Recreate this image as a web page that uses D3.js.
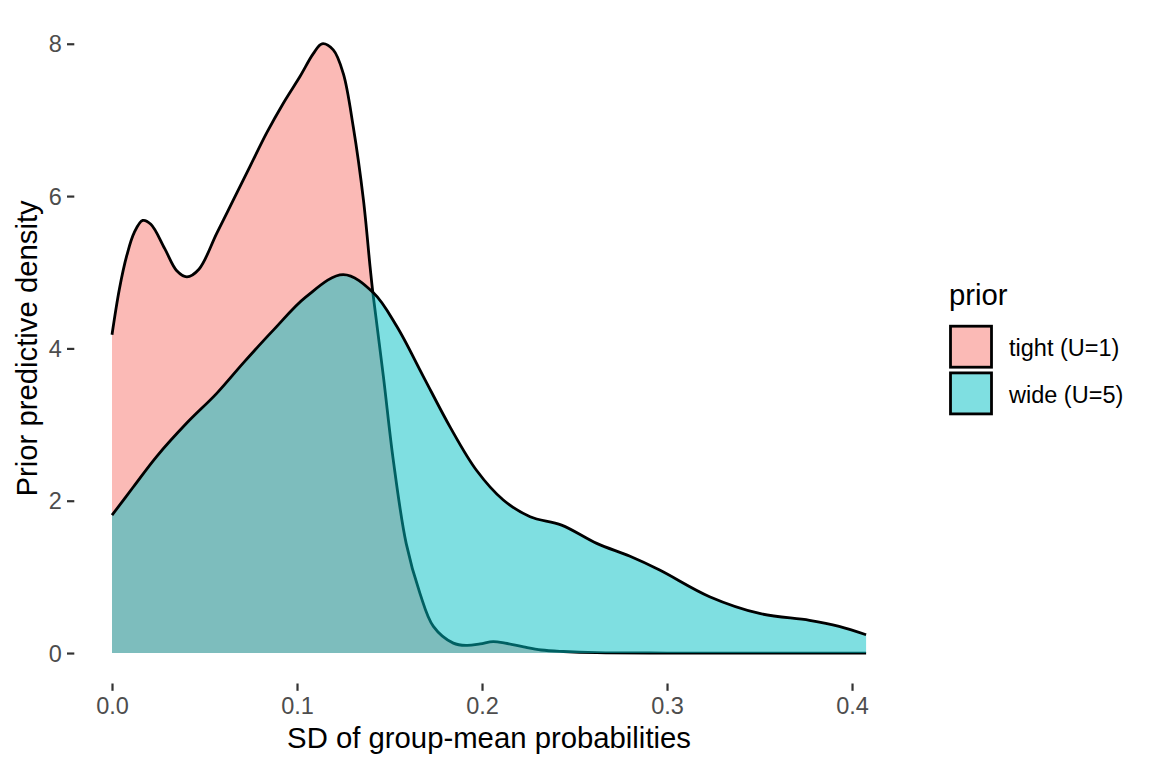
<!DOCTYPE html>
<html>
<head>
<meta charset="utf-8">
<script src="https://cdn.jsdelivr.net/npm/d3@7"></script>
<style>
  html, body { margin: 0; padding: 0; background: #fff; }
  svg { display: block; font-family: "Liberation Sans", Arial, Helvetica, sans-serif; }
</style>
</head>
<body>
<svg id="chart" width="1152" height="768"></svg>
<script>
// ---- data ----
const seriesNames = ["tight (U=1)", "wide (U=5)"];
const seriesColors = ["#F8766D", "#00BFC4"];

const tightX = [0.000, 0.004, 0.008, 0.012, 0.0166, 0.021, 0.0285, 0.035, 0.0405, 0.047, 0.0566, 0.0656, 0.0746, 0.0836, 0.0926, 0.1016, 0.1088, 0.1135, 0.1196, 0.125, 0.1304, 0.1359, 0.1395, 0.141, 0.1467, 0.152, 0.159, 0.1665, 0.1737, 0.1845, 0.1917, 0.199, 0.206, 0.2125, 0.2225, 0.232, 0.244, 0.262, 0.300, 0.350, 0.4076];
const tightY = [4.18, 4.78, 5.22, 5.52, 5.68, 5.63, 5.31, 5.02, 4.94, 5.04, 5.51, 5.95, 6.39, 6.83, 7.22, 7.57, 7.87, 8.00, 7.92, 7.61, 6.91, 5.95, 5.07, 4.73, 3.63, 2.54, 1.44, 0.78, 0.35, 0.13, 0.10, 0.12, 0.15, 0.13, 0.08, 0.04, 0.02, 0.005, 0.0, 0.0, 0.0];

const wideX = [0.000, 0.0115, 0.0241, 0.0404, 0.0566, 0.071, 0.0872, 0.105, 0.125, 0.1413, 0.1539, 0.1683, 0.1827, 0.197, 0.2115, 0.226, 0.243, 0.262, 0.280, 0.296, 0.323, 0.350, 0.377, 0.393, 0.4076];
const wideY = [1.81, 2.18, 2.58, 3.02, 3.41, 3.81, 4.24, 4.68, 4.97, 4.73, 4.29, 3.63, 2.97, 2.40, 2.01, 1.79, 1.68, 1.44, 1.27, 1.09, 0.74, 0.52, 0.43, 0.35, 0.24];

const xTicks = [0.0, 0.1, 0.2, 0.3, 0.4];
const yTicks = [0, 2, 4, 6, 8];
const xTitle = "SD of group-mean probabilities";
const yTitle = "Prior predictive density";
const legendTitle = "prior";

// ---- layout ----
const svg = d3.select("#chart");
const panel = { left: 74.3, right: 903.8, top: 13.3, bottom: 683.5 };
const xMin = 0, xMax = 0.4076, yMin = 0, yMax = 8;
const xPad = (xMax - xMin) * 0.05, yPad = (yMax - yMin) * 0.05;

const x = d3.scaleLinear().domain([xMin - xPad, xMax + xPad]).range([panel.left, panel.right]);
const y = d3.scaleLinear().domain([yMin - yPad, yMax + yPad]).range([panel.bottom, panel.top]);

const series = [
  { name: seriesNames[0], color: seriesColors[0], pts: tightX.map((v, i) => [v, tightY[i]]) },
  { name: seriesNames[1], color: seriesColors[1], pts: wideX.map((v, i) => [v, wideY[i]]) }
];

const curve = d3.curveCatmullRom.alpha(0.5);
const area = d3.area().x(d => x(d[0])).y0(y(0)).y1(d => y(d[1])).curve(curve);
const line = d3.line().x(d => x(d[0])).y(d => y(d[1])).curve(curve);

const g = svg.append("g");
series.forEach(s => {
  g.append("path").attr("d", area(s.pts)).attr("fill", s.color).attr("fill-opacity", 0.5).attr("stroke", "none");
  g.append("path").attr("d", line(s.pts)).attr("fill", "none").attr("stroke", "#000").attr("stroke-width", 2.8).attr("stroke-linejoin", "round");
});

// ---- axes ----
const xAxis = d3.axisBottom(x).tickValues(xTicks).tickFormat(d3.format(".1f")).tickSize(7.3).tickPadding(5);
const ax = svg.append("g").attr("transform", `translate(0,${panel.bottom})`).call(xAxis);
ax.select(".domain").remove();
ax.selectAll(".tick line").attr("stroke", "#333").attr("stroke-width", 2.2);
ax.selectAll(".tick text").attr("fill", "#4D4D4D").attr("font-size", 23.5).attr("font-family", null).attr("dy", null).attr("y", 30.5);

const yAxis = d3.axisLeft(y).tickValues(yTicks).tickFormat(d3.format("d")).tickSize(7.3).tickPadding(5);
const ay = svg.append("g").attr("transform", `translate(${panel.left},0)`).call(yAxis);
ay.select(".domain").remove();
ay.selectAll(".tick line").attr("stroke", "#333").attr("stroke-width", 2.2);
ay.selectAll(".tick text").attr("fill", "#4D4D4D").attr("font-size", 23.5).attr("font-family", null).attr("x", -12.5).attr("dy", "0.35em");

svg.append("text").attr("x", (panel.left + panel.right) / 2).attr("y", 748)
  .attr("text-anchor", "middle").attr("font-size", 29.3).attr("fill", "#000").text(xTitle);
svg.append("text").attr("transform", `translate(37,${(panel.top + panel.bottom) / 2}) rotate(-90)`)
  .attr("text-anchor", "middle").attr("font-size", 29.3).attr("fill", "#000").text(yTitle);

// ---- legend ----
const lg = svg.append("g");
lg.append("text").attr("x", 949).attr("y", 305).attr("font-size", 29.3).attr("fill", "#000").text(legendTitle);
series.forEach((s, i) => {
  const top = 325 + i * 46.7;
  lg.append("rect").attr("x", 950.5).attr("y", top + 1.2).attr("width", 41).attr("height", 41)
    .attr("fill", s.color).attr("fill-opacity", 0.5).attr("stroke", "#000").attr("stroke-width", 2.8);
  lg.append("text").attr("x", 1009).attr("y", top + 31).attr("font-size", 23.5).attr("fill", "#000").text(s.name);
});
</script>
</body>
</html>
